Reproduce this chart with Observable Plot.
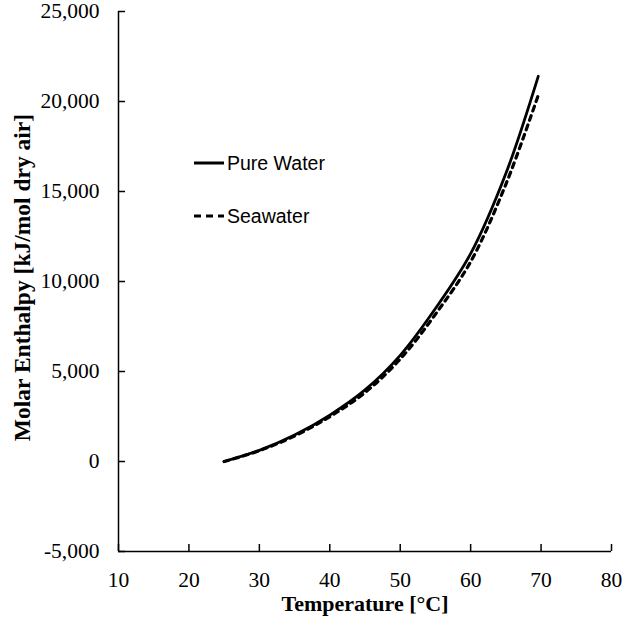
<!DOCTYPE html>
<html>
<head>
<meta charset="utf-8">
<script src="https://cdn.jsdelivr.net/npm/d3@7"></script>
<script src="https://cdn.jsdelivr.net/npm/@observablehq/plot@0.6"></script>
<style>
  body { margin: 0; background: #fff; }
  #wrap { position: relative; width: 624px; height: 624px; }
  #wrap svg text { font-family: "Liberation Serif", "Times New Roman", serif; }
  #legend { position: absolute; left: 193px; top: 149px; font-family: "Liberation Sans", Arial, sans-serif; font-size: 19.5px; color: #000; }
  #legend .row { display: flex; align-items: center; height: 28px; margin-bottom: 25px; }
  #legend svg { margin-right: 2px; }
</style>
</head>
<body>
<div id="wrap"></div>
<script>
const temperature = [25, 30, 35, 40, 45, 50, 55, 60, 65, 69.6];
const pureWater = [0, 620, 1470, 2580, 3980, 5900, 8500, 11550, 16000, 21400];
const seawater = [0, 600, 1420, 2490, 3830, 5690, 8180, 11100, 15400, 20350];
const xTicks = [10, 20, 30, 40, 50, 60, 70, 80];
const yTicks = [-5000, 0, 5000, 10000, 15000, 20000, 25000];
const seriesNames = ["Pure Water", "Seawater"];

const rows = [];
temperature.forEach((t, i) => {
  rows.push({series: seriesNames[0], t, h: pureWater[i]});
  rows.push({series: seriesNames[1], t, h: seawater[i]});
});

const fmt = d3.format(",");
const yFmt = d => d < 0 ? "-" + fmt(-d) : fmt(d);
const serif = "Liberation Serif";

const chart = Plot.plot({
  width: 624,
  height: 624,
  marginLeft: 118,
  marginRight: 13,
  marginTop: 11,
  marginBottom: 73,
  style: {fontFamily: serif, fontSize: "21px", color: "#000", background: "#fff"},
  x: {domain: [10, 80], ticks: xTicks},
  y: {domain: [-5000, 25000], ticks: yTicks},
  marks: [
    Plot.ruleX([10], {stroke: "#000", strokeWidth: 1.5}),
    Plot.ruleY([-5000], {stroke: "#000", strokeWidth: 1.5}),
    Plot.axisX({ticks: xTicks, tickSize: -7, text: null, label: null, strokeWidth: 1.5}),
    Plot.axisY({ticks: yTicks, tickSize: -7, text: null, label: null, strokeWidth: 1.5}),
    Plot.axisX({ticks: xTicks, tickSize: 0, tickPadding: 20, tickFormat: d => String(d), label: null, fontSize: 21.5, fontFamily: serif}),
    Plot.axisY({ticks: yTicks, tickSize: 0, tickPadding: 19, tickFormat: yFmt, label: null, fontSize: 21.5, fontFamily: serif}),
    Plot.line(rows.filter(d => d.series === seriesNames[0]), {x: "t", y: "h", stroke: "#000", strokeWidth: 2.8, curve: "catmull-rom", strokeLinecap: "round"}),
    Plot.line(rows.filter(d => d.series === seriesNames[1]), {x: "t", y: "h", stroke: "#000", strokeWidth: 3.2, curve: "catmull-rom", strokeDasharray: "5,5"}),
    Plot.text(["Temperature [°C]"], {frameAnchor: "bottom", dy: 59, fontWeight: "bold", fontSize: 22, fontFamily: serif}),
    Plot.text(["Molar Enthalpy [kJ/mol dry air]"], {frameAnchor: "left", textAnchor: "middle", rotate: -90, dx: -96, dy: -4, fontWeight: "bold", fontSize: 23.5, fontFamily: serif})
  ]
});

const wrap = document.getElementById("wrap");
wrap.appendChild(chart);

const legend = document.createElement("div");
legend.id = "legend";
seriesNames.forEach((name, i) => {
  const row = document.createElement("div");
  row.className = "row";
  row.innerHTML = `<svg width="32" height="10"><line x1="1" y1="5" x2="31" y2="5" stroke="#000" stroke-width="3" ${i === 1 ? 'stroke-dasharray="7,5"' : ''}/></svg><span>${name}</span>`;
  legend.appendChild(row);
});
wrap.appendChild(legend);
</script>
</body>
</html>
